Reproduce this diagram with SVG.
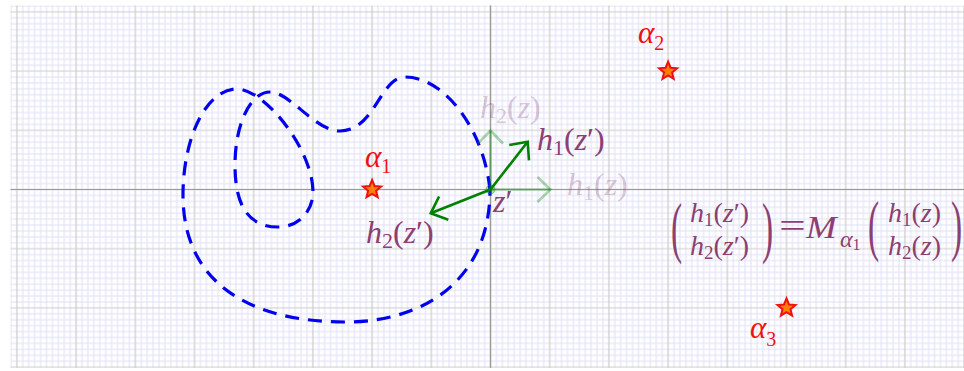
<svg xmlns="http://www.w3.org/2000/svg" width="964" height="371" viewBox="0 0 964 371">
<style>
.lab{font-family:"Liberation Serif","DejaVu Serif",serif;fill:#8c3f72;font-size:32px}
.eq{font-family:"Liberation Serif","DejaVu Serif",serif;fill:#8c3f72;font-size:28px}
.it{font-style:italic}
.faded{fill-opacity:0.3}
.alpha{font-family:"Liberation Serif","DejaVu Serif",serif;fill:#ee1111;font-size:31px;font-style:italic}
.sub{font-style:normal}
.curve{fill:none;stroke:#0000f0;stroke-width:3.2;stroke-dasharray:14 9}
.vec{stroke:#008000;stroke-width:2.6;fill:none}
.vecl{stroke:#008000;stroke-opacity:0.33;stroke-width:2.6;fill:none}
.star{fill:#ff8000;stroke:#ee1111;stroke-width:2;stroke-linejoin:miter}
</style>
<defs>
<pattern id="grid" patternUnits="userSpaceOnUse" x="13.94" y="8.94" width="59.2" height="59.2">
<path d="M8.88,0V59.2M14.8,0V59.2M20.72,0V59.2M26.64,0V59.2M32.56,0V59.2M38.48,0V59.2M44.4,0V59.2M50.32,0V59.2M56.24,0V59.2M0,8.88H59.2M0,14.8H59.2M0,20.72H59.2M0,26.64H59.2M0,32.56H59.2M0,38.48H59.2M0,44.4H59.2M0,50.32H59.2M0,56.24H59.2" stroke="#e0e0fa" stroke-width="1"/>
<path d="M2.96,0V59.2M0,2.96H59.2" stroke="#cbcbcb" stroke-width="1.2"/>
</pattern>
<marker id="ah" markerUnits="userSpaceOnUse" viewBox="-20 -16 24 32" markerWidth="24" markerHeight="32" refX="0" refY="0" orient="auto">
<path d="M-14,-12.5 L0,0 L-14,12.5" fill="none" stroke="#008000" stroke-width="2.6"/>
</marker>
<marker id="ahl" markerUnits="userSpaceOnUse" viewBox="-20 -16 24 32" markerWidth="24" markerHeight="32" refX="0" refY="0" orient="auto">
<path d="M-13,-12.5 L0,0 L-13,12.5" fill="none" stroke="#008000" stroke-opacity="0.33" stroke-width="2.6"/>
</marker>
<polygon id="starshape" points="0,-9.5 2.5,-3.4 9,-2.9 4,1.3 5.6,7.7 0,4.3 -5.6,7.7 -4,1.3 -9,-2.9 -2.5,-3.4"/>
</defs>
<rect width="964" height="371" fill="#ffffff"/>
<g id="grid-bg">
<rect x="10.5" y="5.5" width="953.5" height="362.5" fill="url(#grid)"/>
<path d="M10.5,189.5H964M490.5,5.5V368" stroke="#9a9a9a" stroke-width="1.2"/>
</g>
<g id="curve">
<path class="curve" d="M490,190 C484,130 445,77 405,77 C380,77 375,131 340,131 C315,131 290,92 270,92 C250,92 235,125 235,165 C235,205 248,227 278,227 C300,227 313,210 313,192 C313,150 265,89 237,89 C205,89 183,140 183,195 C183,290 260,322 345,322 C430,322 490,275 490,190 Z"/>
</g>
<g id="connectors">
<path class="vecl" d="M490.5,189.5 L550.5,189.5" marker-end="url(#ahl)"/>
<path class="vecl" d="M490.5,189.5 L490.5,130.5" marker-end="url(#ahl)"/>
<path class="vec" d="M490.5,189.5 L527.7,141.7" marker-end="url(#ah)"/>
<path class="vec" d="M490.5,189.5 L430.7,213.3" marker-end="url(#ah)"/>
</g>
<g id="point-z">
<circle cx="490.5" cy="189.5" r="4.5" fill="#008000" fill-opacity="0.3" stroke="#008000" stroke-opacity="0.4" stroke-width="1"/>
<text class="lab" x="493" y="212"><tspan class="it">z</tspan>′</text>
</g>
<g id="label-h2z">
<text class="lab faded" x="480" y="118"><tspan class="it">h</tspan><tspan font-size="22" dy="5">2</tspan><tspan dy="-5">(</tspan><tspan class="it">z</tspan>)</text>
</g>
<g id="label-h1z">
<text class="lab faded" x="567" y="195"><tspan class="it">h</tspan><tspan font-size="22" dy="5">1</tspan><tspan dy="-5">(</tspan><tspan class="it">z</tspan>)</text>
</g>
<g id="label-h1zp">
<text class="lab" x="537" y="150"><tspan class="it">h</tspan><tspan font-size="22" dy="5">1</tspan><tspan dy="-5">(</tspan><tspan class="it">z</tspan>′)</text>
</g>
<g id="label-h2zp">
<text class="lab" x="366" y="243"><tspan class="it">h</tspan><tspan font-size="22" dy="5">2</tspan><tspan dy="-5">(</tspan><tspan class="it">z</tspan>′)</text>
</g>
<g id="alpha1">
<use href="#starshape" class="star" x="372.1" y="189.5"/>
<text class="alpha" x="365" y="167">α<tspan class="sub" font-size="20" dy="6">1</tspan></text>
</g>
<g id="alpha2">
<use href="#starshape" class="star" x="668.1" y="71.1"/>
<text class="alpha" x="638" y="43">α<tspan class="sub" font-size="20" dy="7">2</tspan></text>
</g>
<g id="alpha3">
<use href="#starshape" class="star" x="786.5" y="307.9"/>
<text class="alpha" x="750" y="338">α<tspan class="sub" font-size="20" dy="8">3</tspan></text>
</g>
<g id="equation">
<text class="eq" transform="translate(671,250) scale(0.5,1)" style="font-size:67px">(</text>
<text class="eq" x="690" y="222"><tspan class="it">h</tspan><tspan font-size="19" dy="4">1</tspan><tspan dy="-4">(</tspan><tspan class="it">z</tspan>′)</text>
<text class="eq" x="690" y="255"><tspan class="it">h</tspan><tspan font-size="19" dy="4">2</tspan><tspan dy="-4">(</tspan><tspan class="it">z</tspan>′)</text>
<text class="eq" transform="translate(762,250) scale(0.5,1)" style="font-size:67px">)</text>
<text class="eq" transform="translate(779,237) scale(1.4,1)" style="font-size:34px">=</text>
<text class="eq it" transform="translate(806,238) scale(1.15,1)" style="font-size:32px">M</text>
<text class="eq it" x="840" y="247" style="font-size:24px">α<tspan class="sub" font-size="16" dy="3">1</tspan></text>
<text class="eq" transform="translate(868,248) scale(0.5,1)" style="font-size:67px">(</text>
<text class="eq" x="888" y="222"><tspan class="it">h</tspan><tspan font-size="19" dy="4">1</tspan><tspan dy="-4">(</tspan><tspan class="it">z</tspan>)</text>
<text class="eq" x="888" y="255"><tspan class="it">h</tspan><tspan font-size="19" dy="4">2</tspan><tspan dy="-4">(</tspan><tspan class="it">z</tspan>)</text>
<text class="eq" transform="translate(951,248) scale(0.5,1)" style="font-size:67px">)</text>
</g>
</svg>
